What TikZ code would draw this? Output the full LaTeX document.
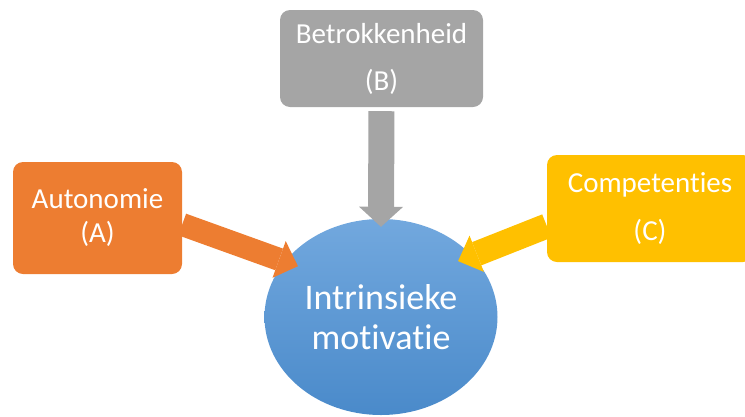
\documentclass[tikz,border=0pt]{standalone}
\usepackage{fontspec}
\setmainfont{Carlito}[Ligatures=NoCommon]
\usetikzlibrary{arrows.meta,shapes.geometric}
\definecolor{orangeA}{HTML}{ED7D31}
\definecolor{greyB}{HTML}{A5A5A5}
\definecolor{yellowC}{HTML}{FFC000}
\definecolor{blueTop}{HTML}{72A8DE}
\definecolor{blueBot}{HTML}{4A8ACA}

\begin{document}
\begin{tikzpicture}[x=1pt, y=-1pt,
    box/.style={rectangle, rounded corners=10pt, inner sep=0pt, align=center, text=white},
    feed/.style={line width=23pt, -{Triangle[width=39pt, length=20pt, line width=0pt]}}]
    \useasboundingbox (0,0) rectangle (745,416);

    % Nodes
    \node (motiv) [ellipse, inner sep=0pt, minimum width=233pt, minimum height=196pt,
        top color=blueTop, bottom color=blueBot, text=white, align=center,
        font=\fontsize{36pt}{40pt}\selectfont] at (381,317) {Intrinsieke\\motivatie};
    \node (betr) [box, fill=greyB, minimum width=203pt, minimum height=97pt,
        font=\fontsize{29pt}{47pt}\selectfont] at (381.5,58.5) {Betrokkenheid\\(B)};
    \node (auto) [box, fill=orangeA, minimum width=169pt, minimum height=112pt,
        font=\fontsize{29pt}{34pt}\selectfont] at (97.5,218) {Autonomie\\(A)};
    \node (comp) [box, fill=yellowC, minimum width=206pt, minimum height=107pt,
        font=\fontsize{29pt}{48pt}\selectfont] at (650,208.5) {Competenties\\(C)};

    % Arrows
    \draw[feed, greyB, line width=26pt, -{Triangle[width=44pt, length=20pt, line width=0pt]},
        shorten <=4pt, shorten >=-8pt] (betr.south) -- (motiv.north);
    \draw[feed, orangeA, shorten >=-14pt] ([yshift=-6.5pt]auto.east) -- (motiv.150);
    \draw[feed, yellowC, line width=25pt, shorten >=-15pt] ([yshift=-17.5pt]comp.west) -- (motiv.34);
\end{tikzpicture}
\end{document}
